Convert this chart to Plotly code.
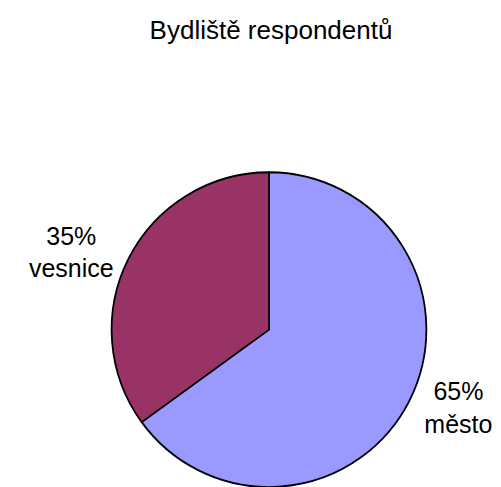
import plotly.graph_objects as go

title_text = "Bydliště respondentů"
categories = ["město", "vesnice"]
shares = [65, 35]
colors = ["#9999FF", "#993366"]

W, H = 501, 492
cx, cy, r = 269, 333, 159

fig = go.Figure(go.Pie(
    labels=categories,
    values=shares,
    sort=False,
    direction="clockwise",
    rotation=0,
    marker=dict(colors=colors, line=dict(color="black", width=1.8)),
    textinfo="percent+label",
    texttemplate="%{percent:.0%}<br>%{label}",
    textposition="outside",
    textfont=dict(family="Liberation Sans, Arial, sans-serif", size=25, color="black"),
    hoverinfo="label+percent",
    domain=dict(x=[(cx - r) / W, (cx + r) / W], y=[(H - cy - r) / H, (H - cy + r) / H]),
    showlegend=False,
))

fig.update_layout(
    width=W, height=H,
    margin=dict(l=0, r=0, t=0, b=0),
    paper_bgcolor="white",
    plot_bgcolor="white",
    font=dict(family="Liberation Sans, Arial, sans-serif", color="black"),
    title=dict(text=title_text, x=271 / W, xanchor="center", xref="container",
               y=1 - 30 / H, yanchor="middle", yref="container",
               font=dict(size=26, color="black")),
)

fig.write_html("out.html", config={"displayModeBar": False},
               post_script="document.body.style.margin='0';document.body.style.overflow='hidden';")
